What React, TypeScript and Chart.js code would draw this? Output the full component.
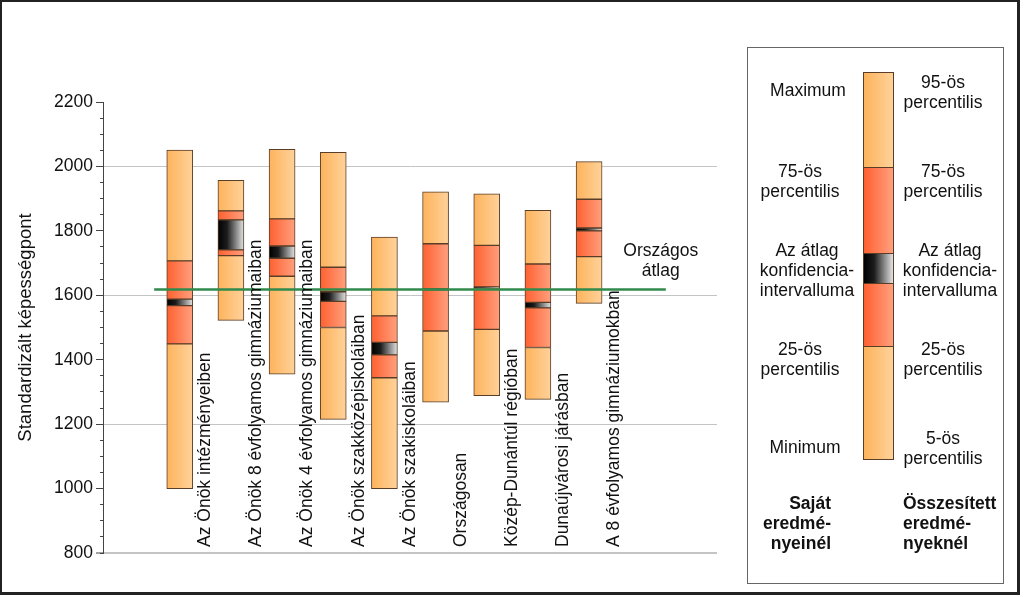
import React, { useEffect, useRef } from 'react';
import { Chart, registerables } from 'chart.js';

Chart.register(...registerables);

const FONT = '"Liberation Sans", Arial, sans-serif';
const FONT_SIZE = 17.5;

// Categories (x positions are the category index)
const categories = [
  'Az Önök intézményeiben',
  'Az Önök 8 évfolyamos gimnáziumaiban',
  'Az Önök 4 évfolyamos gimnáziumaiban',
  'Az Önök szakközépiskoláiban',
  'Az Önök szakiskoláiban',
  'Országosan',
  'Közép-Dunántúl régióban',
  'Dunaújvárosi járásban',
  'A 8 évfolyamos gimnáziumokban',
];

// Minimum (own results) / 5th percentile (aggregated results)
const lowValues = [1000, 1522, 1355, 1215, 1000, 1268, 1288, 1277, 1575];
// 25th percentile
const p25Values = [1449, 1723, 1659, 1500, 1344, 1489, 1494, 1438, 1720];
// confidence interval of the mean
const ciLowValues = [1568, 1741, 1715, 1581, 1415, 1617, 1623, 1561, 1800];
const ciHighValues = [1588, 1834, 1753, 1611, 1454, 1620, 1626, 1578, 1809];
// 75th percentile
const p75Values = [1707, 1862, 1837, 1687, 1536, 1760, 1755, 1697, 1898];
// Maximum (own results) / 95th percentile (aggregated results)
const highValues = [2051, 1957, 2053, 2044, 1781, 1921, 1915, 1864, 2015];

// National average line
const nationalAverage = 1618;
const averageLineStart = -0.5;
const averageLineEnd = 9.5;
const averageLabel = ['Országos', 'átlag'];
const averageLabelX = 9.4;

// Axis
const yMin = 800;
const yMax = 2200;
const yMajorStep = 200;
const yMinorStep = 50;
const yGridStep = 400;
const xMin = -1.5;
const xMax = 10.5;
const yTitle = 'Standardizált képességpont';

const BAR_W = 26;
const BORDER = '#5a3d26';
const LIGHT = ['#FDB35C', '#FFD29A'];
const RED = ['#FF6030', '#FFA07E'];
const CI = ['#000000', '#1c1c1c', '#e4e4e4'];
const CI_STOPS = [0, 0.35, 1];

const makeGradient = (colors: string[], stops?: number[]) => (ctx: any) => {
  const chart = ctx.chart;
  const xs = chart.scales && chart.scales.x;
  if (ctx.type !== 'data' || !xs || !chart.chartArea) return colors[0];
  const cx = xs.getPixelForValue(ctx.dataIndex);
  if (!isFinite(cx)) return colors[0];
  const g = chart.ctx.createLinearGradient(cx - BAR_W / 2, 0, cx + BAR_W / 2, 0);
  colors.forEach((c, i) => g.addColorStop(stops ? stops[i] : i / (colors.length - 1), c));
  return g;
};

const segment = (lo: number[], hi: number[], colors: string[], stops?: number[]) => ({
  type: 'bar' as const,
  data: lo.map((v, i) => ({ x: i, y: [v, hi[i]] })),
  backgroundColor: makeGradient(colors, stops),
  borderColor: BORDER,
  borderWidth: 1,
  borderSkipped: false,
  barThickness: BAR_W,
  grouped: false,
  order: 1,
});

const labelPlugin = {
  id: 'categoryLabels',
  afterDatasetsDraw(chart: any) {
    const { ctx, chartArea, scales } = chart;
    const xs = scales.x;
    const ys = scales.y;
    ctx.save();
    ctx.font = `${FONT_SIZE}px ${FONT}`;
    ctx.fillStyle = '#111';
    categories.forEach((c, i) => {
      const px = xs.getPixelForValue(i + 0.5);
      ctx.save();
      ctx.translate(px, chartArea.bottom - 6);
      ctx.rotate(-Math.PI / 2);
      ctx.textAlign = 'left';
      ctx.textBaseline = 'middle';
      ctx.fillText(c, 0, 0);
      ctx.restore();
    });
    const ax = xs.getPixelForValue(averageLabelX);
    const ay = ys.getPixelForValue(nationalAverage);
    ctx.textAlign = 'center';
    ctx.textBaseline = 'middle';
    averageLabel.forEach((t, k) => ctx.fillText(t, ax, ay - 38 + k * 20));
    ctx.restore();
  },
};

const legendGrad = (colors: string[], stops?: number[]) =>
  `linear-gradient(to right, ${colors
    .map((c, i) => `${c} ${Math.round((stops ? stops[i] : i / (colors.length - 1)) * 100)}%`)
    .join(', ')})`;

const textStyle: React.CSSProperties = {
  position: 'absolute',
  fontFamily: FONT,
  fontSize: FONT_SIZE,
  lineHeight: '20px',
  color: '#111',
  whiteSpace: 'nowrap',
};

function Block({ lines, cx, top, bold, align }: { lines: string[]; cx: number; top: number; bold?: boolean; align?: 'left' | 'right' }) {
  let style: React.CSSProperties;
  if (align === 'left') style = { left: cx, top, textAlign: 'left' };
  else if (align === 'right') style = { left: cx - 160, width: 160, top, textAlign: 'right' };
  else style = { left: cx - 80, width: 160, top, textAlign: 'center' };
  return (
    <div style={{ ...textStyle, ...style, fontWeight: bold ? 'bold' : 'normal' }}>
      {lines.map((l, i) => (
        <div key={i}>{l}</div>
      ))}
    </div>
  );
}

export default function App() {
  const ref = useRef<HTMLCanvasElement | null>(null);

  useEffect(() => {
    if (!ref.current) return;
    const chart = new Chart(ref.current, {
      type: 'bar',
      data: {
        datasets: [
          {
            type: 'line' as const,
            data: [
              { x: averageLineStart, y: nationalAverage },
              { x: averageLineEnd, y: nationalAverage },
            ],
            borderColor: '#2f8a4c',
            borderWidth: 2.5,
            pointRadius: 0,
            fill: false,
            order: 0,
          } as any,
          segment(lowValues, p25Values, LIGHT),
          segment(p25Values, ciLowValues, RED),
          segment(ciLowValues, ciHighValues, CI, CI_STOPS),
          segment(ciHighValues, p75Values, RED),
          segment(p75Values, highValues, LIGHT),
        ],
      },
      options: {
        responsive: false,
        animation: false,
        layout: { padding: { left: 0, top: 102, right: 307, bottom: 44 } },
        plugins: { legend: { display: false }, tooltip: { enabled: false } },
        scales: {
          x: {
            type: 'linear',
            min: xMin,
            max: xMax,
            offset: false,
            display: false,
          },
          y: {
            type: 'linear',
            position: 'left',
            min: yMin,
            max: yMax,
            weight: 1,
            ticks: {
              stepSize: yMajorStep,
              color: '#111',
              font: { family: FONT, size: FONT_SIZE },
              padding: 3,
              callback: (v: any) => String(v),
            },
            grid: {
              color: (c: any) =>
                c.tick && c.tick.value % yGridStep === 0 && c.tick.value < yMax ? '#c4c4c4' : 'rgba(0,0,0,0)',
              lineWidth: (c: any) => (c.tick && c.tick.value === yMin ? 2 : 1),
              tickColor: '#444',
              tickWidth: 1,
              tickLength: 7,
            },
            border: { display: true, color: '#444', width: 1 },
            title: {
              display: true,
              text: yTitle,
              color: '#111',
              font: { family: FONT, size: 18.5 },
              padding: { top: 15, bottom: 0 },
            },
            afterFit: (s: any) => {
              s.width = 103;
            },
          },
          yMinor: {
            type: 'linear',
            position: 'left',
            min: yMin,
            max: yMax,
            weight: 0,
            ticks: { stepSize: yMinorStep, display: false },
            grid: { drawOnChartArea: false, tickLength: 3, tickColor: '#444', tickWidth: 1 },
            border: { display: false },
            afterFit: (s: any) => {
              s.width = 0;
            },
          },
        },
      } as any,
      plugins: [labelPlugin],
    });
    return () => chart.destroy();
  }, []);

  const bx = 863;
  const bw = 31;
  const segs = [
    { top: 72, h: 96, bg: legendGrad(LIGHT) },
    { top: 167, h: 87, bg: legendGrad(RED) },
    { top: 253, h: 31, bg: legendGrad(CI, CI_STOPS) },
    { top: 283, h: 64, bg: legendGrad(RED) },
    { top: 346, h: 114, bg: legendGrad(LIGHT) },
  ];

  return (
    <div style={{ position: 'absolute', left: 0, top: 0, width: 1024, height: 597, overflow: 'hidden', background: '#fff' }}>
      <canvas ref={ref} width={1024} height={597} style={{ position: 'absolute', left: 0, top: 0, width: 1024, height: 597 }} />
      <div
        style={{
          position: 'absolute',
          left: 0,
          top: 0,
          width: 1020,
          height: 595,
          boxSizing: 'border-box',
          borderLeft: '2px solid #222',
          borderTop: '2px solid #222',
          borderRight: '3px solid #222',
          borderBottom: '3px solid #222',
          pointerEvents: 'none',
        }}
      />
      <div
        style={{
          position: 'absolute',
          left: 747,
          top: 47,
          width: 257,
          height: 537,
          boxSizing: 'border-box',
          border: '1px solid #666',
        }}
      />
      {segs.map((s, i) => (
        <div
          key={i}
          style={{
            position: 'absolute',
            left: bx,
            top: s.top,
            width: bw,
            height: s.h,
            boxSizing: 'border-box',
            border: `1px solid ${BORDER}`,
            background: s.bg,
          }}
        />
      ))}
      <Block lines={['Maximum']} cx={808} top={80} />
      <Block lines={['75-ös', 'percentilis']} cx={800} top={161} />
      <Block lines={['Az átlag', 'konfidencia-', 'intervalluma']} cx={807} top={240} />
      <Block lines={['25-ös', 'percentilis']} cx={800} top={339} />
      <Block lines={['Minimum']} cx={805} top={437} />
      <Block lines={['Saját', 'eredmé-', 'nyeinél']} cx={831} top={493} bold align="right" />

      <Block lines={['95-ös', 'percentilis']} cx={943} top={72} />
      <Block lines={['75-ös', 'percentilis']} cx={943} top={161} />
      <Block lines={['Az átlag', 'konfidencia-', 'intervalluma']} cx={950} top={240} />
      <Block lines={['25-ös', 'percentilis']} cx={943} top={339} />
      <Block lines={['5-ös', 'percentilis']} cx={943} top={428} />
      <Block lines={['Összesített', 'eredmé-', 'nyeknél']} cx={903} top={493} bold align="left" />
    </div>
  );
}
